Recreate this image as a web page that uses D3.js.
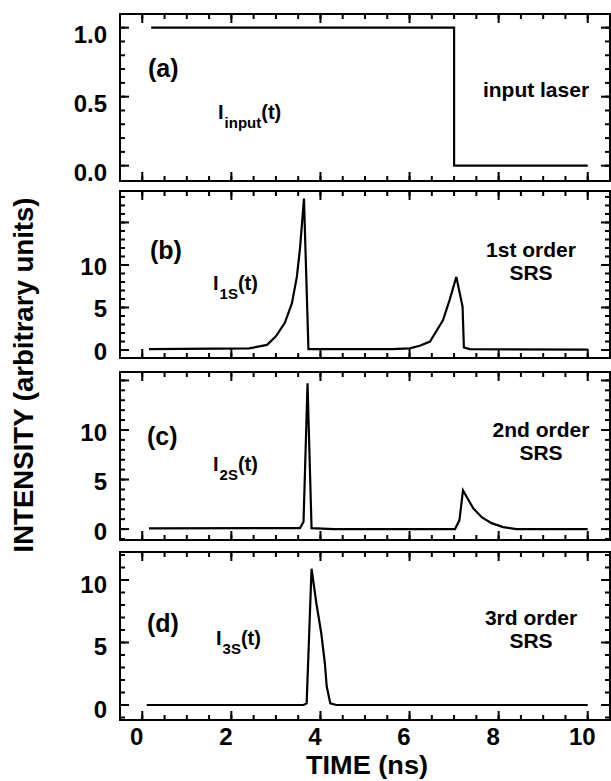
<!DOCTYPE html>
<html>
<head>
<meta charset="utf-8">
<script src="https://cdn.jsdelivr.net/npm/d3@7"></script>
<style>
body { margin: 0; background: #fff; }
svg text { font-family: "Liberation Sans", Arial, Helvetica, sans-serif; font-weight: bold; fill: #000; }
</style>
</head>
<body>
<div id="chart"></div>
<script>
// time axis (ns)
var timeTicks = [0, 2, 4, 6, 8, 10];
var timeLabels = ["0", "2", "4", "6", "8", "10"];

// pulse shapes, [time (ns), intensity]
var inputLaser = [[0.2, 1.0], [7.0, 1.0], [7.0, 0.0], [10.0, 0.0]];

var firstOrder = [[0.15, 0.1], [2.4, 0.2], [2.8, 0.6], [3.0, 1.6], [3.2, 3.2], [3.36, 5.5],
	[3.47, 8.6], [3.54, 11.9], [3.63, 17.8], [3.73, 0.1], [5.6, 0.1], [6.0, 0.2], [6.23, 0.5],
	[6.46, 1.0], [6.6, 2.2], [6.75, 3.5], [6.9, 5.9], [7.05, 8.6], [7.19, 5.1], [7.22, 0.3],
	[7.35, 0.1], [10.0, 0.05]];

var secondOrder = [[0.15, 0.07], [3.54, 0.1], [3.62, 0.75], [3.71, 14.7], [3.8, 0.1], [4.3, 0.0],
	[7.02, 0.0], [7.12, 0.9], [7.2, 3.9], [7.43, 2.1], [7.62, 1.2], [7.84, 0.6], [8.1, 0.2],
	[8.4, 0.0], [10.0, 0.0]];

var thirdOrder = [[0.1, 0.0], [3.62, 0.0], [3.69, 0.13], [3.8, 10.9], [3.91, 8.1], [4.02, 5.7],
	[4.1, 3.3], [4.14, 1.5], [4.22, 0.13], [4.36, 0.0], [10.0, 0.0]];

// y ticks per panel and their labels
var ticksA = [0, 0.5, 1.0], labelsA = ["0.0", "0.5", "1.0"];
var ticksB = [0, 5, 10, 15], labelsB = ["0", "5", "10", ""];
var ticksC = [0, 5, 10, 15], labelsC = ["0", "5", "10", ""];
var ticksD = [0, 5, 10], labelsD = ["0", "5", "10"];

// panel texts
var panelLetters = ["(a)", "(b)", "(c)", "(d)"];
var panelSubs = ["input", "1S", "2S", "3S"];
var panelNotes = [["input laser"], ["1st order", "SRS"], ["2nd order", "SRS"], ["3rd order", "SRS"]];

var width = 611, height = 781;

var svg = d3.select("#chart")
	.append("svg")
		.attr("width", width)
		.attr("height", height);

var x = d3.scaleLinear()
	.domain([-0.5, 10.5])
	.range([120, 610]);

// panel layout
var panels = [
	{top: 14, bottom: 181, domain: [-0.111, 1.099], ticks: ticksA, labels: labelsA, minor: 0.1, data: inputLaser,
		letter: [148, 77], ilab: [218, 119], note: [536, 97], labelDy: 6},
	{top: 191, bottom: 358, domain: [-0.94, 18.7], ticks: ticksB, labels: labelsB, minor: 1, data: firstOrder,
		letter: [150, 259], ilab: [213, 290], note: [531, 257], labelDy: 1},
	{top: 372, bottom: 540, domain: [-1.1, 15.85], ticks: ticksC, labels: labelsC, minor: 1, data: secondOrder,
		letter: [147, 445], ilab: [213, 471], note: [541, 437], labelDy: 2},
	{top: 552, bottom: 720, domain: [-1.2, 12.24], ticks: ticksD, labels: labelsD, minor: 1, data: thirdOrder,
		letter: [147, 632], ilab: [216, 645], note: [531, 625], labelDy: 4}
];

var xMinor = d3.range(0, 10.01, 0.5);
var MAJOR = 9, MINOR = 5;

panels.forEach(function(p, i){

	var y = d3.scaleLinear()
		.domain(p.domain)
		.range([p.bottom, p.top]);

	var g = svg.append("g").attr("class", "panel");

	var yMinor = p.minor < 1 ? d3.range(0, p.domain[1], p.minor) : d3.range(Math.ceil(p.domain[0]), p.domain[1], p.minor);

	// y ticks on both sides, pointing inward
	var yTicks = yMinor.map(function(v){ return {v: v, len: MINOR}; })
		.concat(p.ticks.map(function(v){ return {v: v, len: MAJOR}; }));
	var x0 = x.range()[0], x1 = x.range()[1];

	g.selectAll(".ytick")
		.data(yTicks.concat(yTicks.map(function(d){ return {v: d.v, len: -d.len}; })))
		.enter().append("line")
			.attr("class", "ytick")
			.attr("x1", function(d){ return d.len > 0 ? x0 : x1; })
			.attr("x2", function(d){ return d.len > 0 ? x0 + d.len : x1 + d.len; })
			.attr("y1", function(d){ return y(d.v); })
			.attr("y2", function(d){ return y(d.v); })
			.attr("stroke", "#000")
			.attr("stroke-width", 2);

	// time ticks on top and bottom edges
	var xTicks = xMinor.map(function(v){ return {v: v, len: MINOR}; })
		.concat(timeTicks.map(function(v){ return {v: v, len: MAJOR}; }));

	g.selectAll(".xtick")
		.data(xTicks.concat(xTicks.map(function(d){ return {v: d.v, len: -d.len}; })))
		.enter().append("line")
			.attr("class", "xtick")
			.attr("x1", function(d){ return x(d.v); })
			.attr("x2", function(d){ return x(d.v); })
			.attr("y1", function(d){ return d.len > 0 ? p.top : p.bottom; })
			.attr("y2", function(d){ return d.len > 0 ? p.top + d.len : p.bottom + d.len; })
			.attr("stroke", "#000")
			.attr("stroke-width", 2);

	// left tick labels
	g.append("g")
		.attr("transform", "translate(" + x0 + ",0)")
		.call(d3.axisLeft(y).tickValues(p.ticks).tickSize(0).tickPadding(13)
			.tickFormat(function(d, k){ return p.labels[k]; }))
		.call(function(a){ a.select(".domain").remove(); })
		.selectAll("text")
			.attr("font-size", "24px")
			.attr("dy", (0.35 * 24 + p.labelDy) + "px");

	// time labels under the last panel
	if (i == panels.length - 1) {
		g.append("g")
			.attr("transform", "translate(0," + p.bottom + ")")
			.call(d3.axisBottom(x).tickValues(timeTicks).tickSize(0).tickPadding(8)
				.tickFormat(function(d, k){ return timeLabels[k]; }))
			.call(function(a){ a.select(".domain").remove(); })
			.selectAll("text")
				.attr("font-size", "24px")
				.attr("x", -6);
	}

	// frame
	g.append("rect")
		.attr("x", x0)
		.attr("y", p.top)
		.attr("width", x1 - x0)
		.attr("height", p.bottom - p.top)
		.attr("fill", "none")
		.attr("stroke", "#000")
		.attr("stroke-width", 2);

	// pulse
	var line = d3.line()
		.x(function(d){ return x(d[0]); })
		.y(function(d){ return y(d[1]); });

	g.append("path")
		.datum(p.data)
		.attr("d", line)
		.attr("fill", "none")
		.attr("stroke", "#000")
		.attr("stroke-width", 2.2);

	// panel letter
	g.append("text")
		.attr("x", p.letter[0])
		.attr("y", p.letter[1])
		.attr("font-size", "25px")
		.text(panelLetters[i]);

	// I_xx(t) label
	var il = g.append("text")
		.attr("x", p.ilab[0])
		.attr("y", p.ilab[1])
		.attr("font-size", "20px");
	il.append("tspan").text("I");
	il.append("tspan")
		.attr("dx", 1)
		.attr("dy", 9)
		.attr("font-size", "15px")
		.text(panelSubs[i]);
	il.append("tspan")
		.attr("dy", -9)
		.text("(t)");

	// note on the right
	panelNotes[i].forEach(function(s, k){
		g.append("text")
			.attr("x", p.note[0])
			.attr("y", p.note[1] + k * 23)
			.attr("text-anchor", "middle")
			.attr("font-size", "21px")
			.text(s);
	});
});

// x label
svg.append("text")
	.attr("x", 367)
	.attr("y", 774)
	.attr("text-anchor", "middle")
	.attr("font-size", "26px")
	.attr("textLength", 122)
	.attr("lengthAdjust", "spacingAndGlyphs")
	.text("TIME (ns)");

// y label
svg.append("text")
	.attr("transform", "translate(33,375) rotate(-90)")
	.attr("text-anchor", "middle")
	.attr("font-size", "28px")
	.attr("textLength", 355)
	.attr("lengthAdjust", "spacingAndGlyphs")
	.text("INTENSITY  (arbitrary units)");
</script>
</body>
</html>
